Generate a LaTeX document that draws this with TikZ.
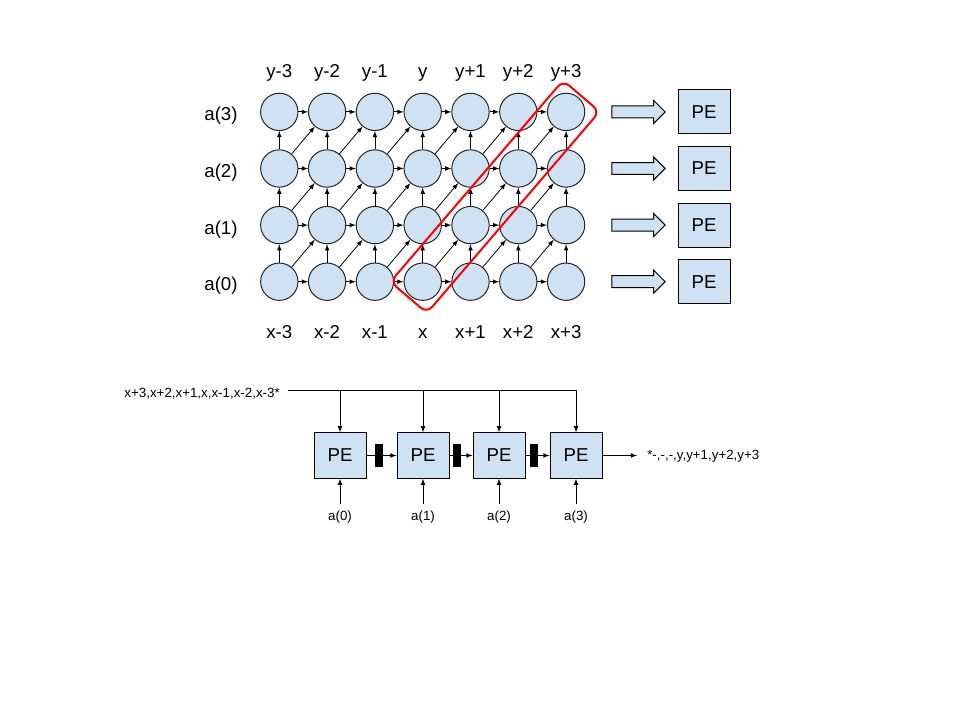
\documentclass[tikz,border=0pt]{standalone}
\usepackage{fontspec}
\setmainfont{Liberation Sans}
\usetikzlibrary{arrows,positioning,calc,shapes.arrows}

\definecolor{cellblue}{HTML}{CFE2F3}

\tikzset{
    cell/.style={circle,draw=black!85,fill=cellblue,line width=0.75pt,minimum size=28pt,inner sep=0pt},
    pebox/.style={rectangle,draw=black,fill=cellblue,line width=0.75pt,minimum width=39pt,minimum height=33pt,inner sep=0pt,font=\fontsize{14}{16}\selectfont},
    regbox/.style={rectangle,fill=black,minimum width=6pt,minimum height=17pt,inner sep=0pt},
    blockarrow/.style={single arrow,draw=black,fill=cellblue,line width=0.75pt,minimum height=40pt,inner xsep=0pt,inner ysep=4.1pt,single arrow head extend=4.1pt},
    diagbox/.style={rectangle,draw=red,line width=1.5pt,rounded corners=6pt,minimum width=199pt,minimum height=36pt},
    link/.style={-latex,line width=0.6pt},
    biglbl/.style={anchor=base,inner sep=0pt,font=\fontsize{14}{16}\selectfont},
    smalllbl/.style={anchor=base,inner sep=0pt,font=\fontsize{10}{12}\selectfont}
}

\begin{document}
\begin{tikzpicture}[x=0.75pt,y=-0.75pt]
        \useasboundingbox (0,0) rectangle (960,720);

        % grid of cells
        \foreach \i in {0,...,6}
            \foreach \r in {0,...,3}
                \node[cell] (c\i\r) at ({279.3+47.8*\i},{281.7-56.6*\r}) {};

        % row and column labels
        \foreach \lab [count=\i from 0] in {y-3,y-2,y-1,y,y+1,y+2,y+3}
            \node[biglbl] (ytop\i) at ({279.3+47.8*\i},78) {\lab};
        \foreach \lab [count=\i from 0] in {x-3,x-2,x-1,x,x+1,x+2,x+3}
            \node[biglbl] (xbot\i) at ({279.3+47.8*\i},339) {\lab};
        \foreach \r in {0,...,3}
            \node[biglbl] (arow\r) at (221,{290.7-56.6*\r}) {a(\r)};

        % arcs inside the grid
        \foreach \i/\j in {0/1,1/2,2/3,3/4,4/5,5/6}
            \foreach \r in {0,...,3}
                \draw[link] (c\i\r) -- (c\j\r);
        \foreach \i in {0,...,6}
            \foreach \r/\s in {0/1,1/2,2/3}
                \draw[link] (c\i\r) -- (c\i\s);
        \foreach \i/\j in {0/1,1/2,2/3,3/4,4/5,5/6}
            \foreach \r/\s in {0/1,1/2,2/3}
                \draw[link] (c\i\r) -- (c\j\s);

        % diagonal marked in red
        \node[diagbox,rotate=49.4] (diag) at (495,196.7) {};

        % right side arrows and PEs
        \foreach \r in {0,...,3} {
            \node[blockarrow] (barr\r) at (635.5,{281.7-56.6*\r}) {};
            \node[pebox] (rpe\r) at (704,{281.7-56.6*\r}) {PE};
        }

        % ================== Linear array ==================
        \node[pebox,minimum height=34pt] (pe0) at (340,455.5) {PE};
        \node[pebox,minimum height=34pt] (pe1) at (423,455.5) {PE};
        \node[pebox,minimum height=34pt] (pe2) at (499,455.5) {PE};
        \node[pebox,minimum height=34pt] (pe3) at (576,455.5) {PE};

        \node[regbox] (reg0) at (379,455.5) {};
        \node[regbox] (reg1) at (457,455.5) {};
        \node[regbox] (reg2) at (534,455.5) {};

        \draw[line width=0.75pt] (pe0) -- (reg0);
        \draw[link] (reg0) -- (pe1);
        \draw[line width=0.75pt] (pe1) -- (reg1);
        \draw[link] (reg1) -- (pe2);
        \draw[line width=0.75pt] (pe2) -- (reg2);
        \draw[link] (reg2) -- (pe3);

        % broadcast input
        \node[smalllbl,anchor=base east] (xin) at (280,397) {x+3,x+2,x+1,x,x-1,x-2,x-3*};
        \coordinate (busIn) at (288,390);
        \draw[link] (busIn) -| (pe3);
        \foreach \k in {0,1,2}
            \draw[link] (pe\k |- busIn) -- (pe\k);

        % weights from below
        \foreach \k in {0,...,3} {
            \coordinate (win\k) at ($(pe\k.south)+(0,25)$);
            \draw[link] (win\k) -- (pe\k);
            \node[smalllbl] (ain\k) at ($(pe\k.south)+(0,42)$) {a(\k)};
        }

        % output
        \coordinate (outEnd) at (637,455.5);
        \draw[link] (pe3) -- (outEnd);
        \node[smalllbl,anchor=base west] (yout) at (647,459) {*-,-,-,y,y+1,y+2,y+3};
    \end{tikzpicture}
\end{document}
